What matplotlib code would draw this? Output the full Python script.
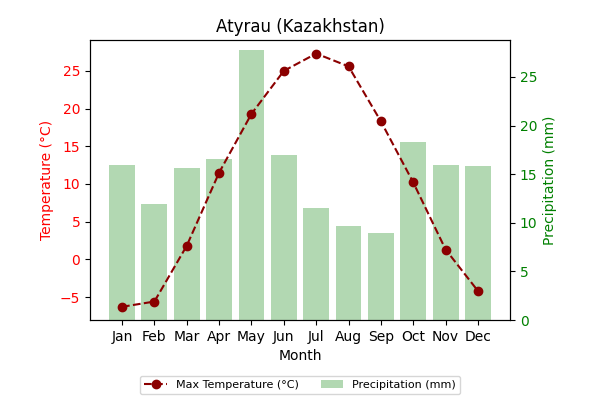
import matplotlib
matplotlib.use("Agg")
import matplotlib.pyplot as plt

months = ["Jan", "Feb", "Mar", "Apr", "May", "Jun", "Jul", "Aug", "Sep", "Oct", "Nov", "Dec"]
max_temp = [-6.3, -5.6, 1.8, 11.5, 19.3, 25.0, 27.3, 25.6, 18.3, 10.2, 1.3, -4.2]
precip = [15.9, 11.9, 15.6, 16.6, 27.8, 17.0, 11.5, 9.7, 8.9, 18.3, 15.9, 15.8]

fig, ax = plt.subplots(figsize=(6, 4), dpi=100)
fig.subplots_adjust(left=0.15, right=0.85, top=0.9, bottom=0.2)
ax2 = ax.twinx()

x = range(len(months))
bars = ax2.bar(x, precip, color="green", alpha=0.3, label="Precipitation (mm)")
line, = ax.plot(x, max_temp, color="darkred", marker="o", linestyle="--",
                label="Max Temperature (°C)")

ax.set_zorder(ax2.get_zorder() + 1)
ax.patch.set_visible(False)

ax.set_xticks(list(x))
ax.set_xticklabels(months)
ax.set_ylim(-8.05, 29.1)
ax2.set_ylim(0, 28.8)
ax.set_xlabel("Month")
ax.set_ylabel("Temperature (°C)", color="red")
ax.tick_params(axis="y", labelcolor="red")
ax2.set_ylabel("Precipitation (mm)", color="green")
ax2.tick_params(axis="y", labelcolor="green")
ax.set_title("Atyrau (Kazakhstan)")

fig.legend([line, bars], [line.get_label(), bars.get_label()], loc="lower center",
           ncol=2, fontsize=8, bbox_to_anchor=(0.5, 0.0))

fig.savefig("out.png")
